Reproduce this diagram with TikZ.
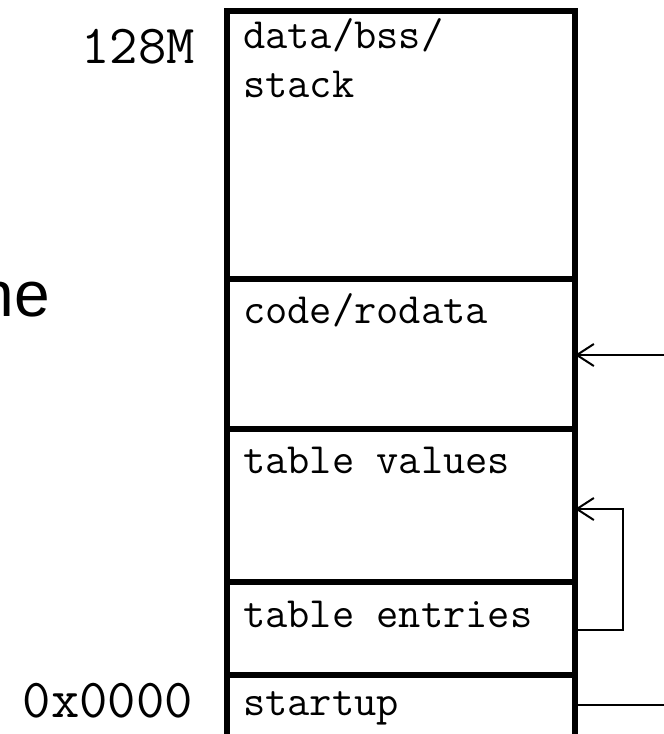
\documentclass[tikz,border=0pt]{standalone}
\usepackage{fontspec}
\newfontfamily\arialfont{Liberation Sans}
\usetikzlibrary{arrows.meta}
\tikzset{
  region/.style={draw=black, line width=6pt, minimum width=348pt, inner sep=0pt, outer sep=0pt},
  lbl/.style={anchor=base west, inner sep=0pt, font=\ttfamily\fontsize{43.2}{48.5}\selectfont, align=left},
  addr/.style={anchor=base east, inner sep=0pt, font=\ttfamily\fontsize{55}{60}\selectfont},
  conn/.style={line width=2pt, draw=black},
  arr/.style={conn, -{Straight Barb[length=17pt,width=22pt]}},
}
\begin{document}
\begin{tikzpicture}[x=1pt,y=1pt]
\useasboundingbox (0,0) rectangle (664,-734);
\clip (0,0) rectangle (664,-734);
% regions
\node[region, minimum height=268pt] (data) at (401,-145) {};
\node[region, minimum height=150pt] (code) at (401,-354) {};
\node[region, minimum height=153pt] (values) at (401,-505.5) {};
\node[region, minimum height=93pt] (entries) at (401,-628.5) {};
\node[region, minimum height=115pt] (startup) at (401,-732.5) {};
% labels
\node[lbl] (tdata) at (243,-97) {data/bss/\\stack};
\node[lbl] (tcode) at (243,-323) {code/rodata};
\node[lbl] (tvalues) at (243,-473) {table values};
\node[lbl] (tentries) at (243,-627) {table entries};
\node[lbl] (tstartup) at (243,-715) {startup};
% addresses
\node[addr] (top) at (195,-63) {128M};
\node[addr] (bot) at (193,-717) {0x0000};
% cut-off text
\node[anchor=base east, inner sep=0pt, font=\arialfont\fontsize{64}{70}\selectfont] (cut) at (50,-316) {ne};
% connectors
\coordinate (c1) at (664,-355);
\draw[arr] (c1) -- (c1 -| code.east);
\coordinate (t1) at (623,-630);
\coordinate (t2) at (623,-509);
\draw[arr] (t1 -| entries.east) -- (t1) -- (t2) -- (t2 -| values.east);
\coordinate (s1) at (664,-705);
\draw[conn] (s1 -| startup.east) -- (s1);
\end{tikzpicture}
\end{document}
